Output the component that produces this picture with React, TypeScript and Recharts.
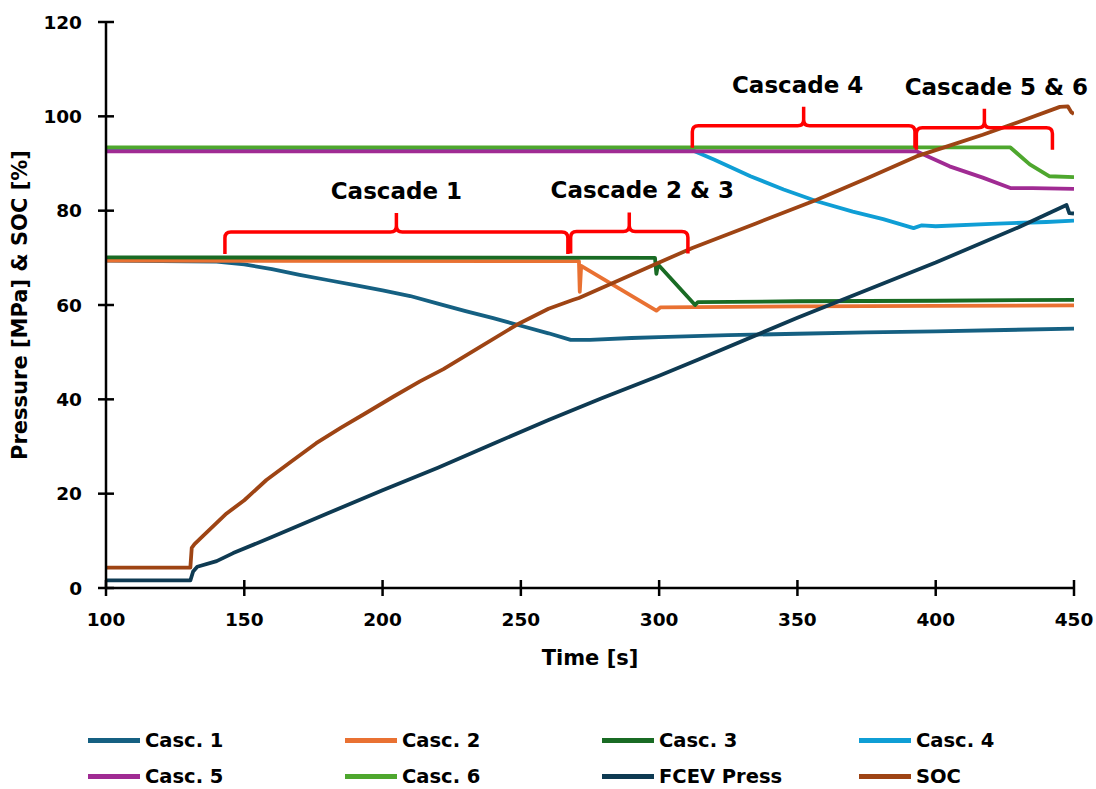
import React from "react";
import { LineChart, Line, XAxis, YAxis, ReferenceLine } from "recharts";

type Pt = [number, number];

// [time s, value]
const casc1: Pt[] = [
  [100, 69.4], [140, 69.2], [150, 68.6], [160, 67.6], [170, 66.4], [180, 65.3],
  [190, 64.2], [200, 63.1], [210, 61.9], [220, 60.3], [230, 58.7], [240, 57.2],
  [250, 55.6], [260, 54.0], [268, 52.6], [275, 52.6], [290, 53.0], [300, 53.2],
  [325, 53.6], [350, 53.9], [375, 54.2], [400, 54.4], [425, 54.7], [450, 55.0],
];
const casc2: Pt[] = [
  [100, 69.4], [271, 69.3], [271.3, 62.8], [271.8, 68.3], [299, 58.8],
  [300.5, 59.5], [350, 59.7], [400, 59.8], [450, 59.9],
];
const casc3: Pt[] = [
  [100, 70.1], [298.5, 70.0], [299, 66.6], [299.6, 68.6], [313, 60.0],
  [314, 60.6], [350, 60.8], [400, 60.9], [450, 61.1],
];
const casc4: Pt[] = [
  [100, 92.8], [312, 92.8], [320, 90.8], [333, 87.3], [345, 84.5], [357, 82.0],
  [370, 79.8], [381, 78.2], [392, 76.3], [395, 76.9], [400, 76.7], [420, 77.2],
  [440, 77.6], [450, 77.9],
];
const casc5: Pt[] = [
  [100, 92.6], [393, 92.6], [405, 89.4], [417, 87.0], [427, 84.8], [435, 84.8],
  [450, 84.6],
];
const casc6: Pt[] = [
  [100, 93.4], [427, 93.4], [434, 89.8], [441, 87.3], [450, 87.1],
];
const fcev: Pt[] = [
  [100, 1.6], [130.5, 1.6], [131.5, 3.5], [133, 4.5], [140, 5.7], [146, 7.4],
  [160, 10.8], [180, 15.8], [200, 20.7], [220, 25.5], [240, 30.6], [260, 35.6],
  [279, 40.2], [300, 45.0], [314, 48.4], [350, 57.3], [400, 69.0], [430, 76.5],
  [447.3, 81.2], [448.3, 79.5], [450, 79.4],
];
const soc: Pt[] = [
  [100, 4.3], [130.5, 4.3], [131, 8.5], [132, 9.3], [135, 11.0], [143.6, 15.8],
  [150, 18.6], [158, 22.9], [167, 26.8], [176, 30.7], [185, 34.0], [194, 37.1],
  [204, 40.6], [213.5, 43.8], [222, 46.4], [235, 51.0], [248.5, 55.8], [260, 59.2],
  [269, 61.1], [271, 61.5], [290, 66.4], [300, 69.0], [312, 72.1], [335, 77.3],
  [357, 82.3], [375, 86.8], [393, 91.5], [405, 93.8], [417, 96.1], [430, 98.8],
  [444.9, 102.0], [447.8, 102.1], [449, 100.9], [450, 100.5],
];

const seriesNames = ["Casc. 1", "Casc. 2", "Casc. 3", "Casc. 4", "Casc. 5", "Casc. 6", "FCEV Press", "SOC"];
const seriesPoints = [casc1, casc2, casc3, casc4, casc5, casc6, fcev, soc];
const seriesColors = ["#156082", "#E97132", "#196B24", "#0F9ED5", "#A02B93", "#4EA72E", "#0E3A52", "#9E4414"];

const xTicks = [100, 150, 200, 250, 300, 350, 400, 450];
const yTicks = [0, 20, 40, 60, 80, 100, 120];

const braceStart = [143, 268, 312, 393];
const braceEnd = [267, 310.4, 392.5, 442.2];
const braceLevel = [75.5, 75.6, 98.0, 97.6];
const braceLabels = ["Cascade 1", "Cascade 2 & 3", "Cascade 4", "Cascade 5 & 6"];
const braceLabelDx = [0, 13, -6, 12];

const FONT = "'DejaVu Sans', 'Liberation Sans', Arial, sans-serif";

function YTick(props: any) {
  const { x, y, payload } = props;
  return (
    <g>
      <line x1={x - 8} x2={x + 8} y1={y} y2={y} stroke="#000" strokeWidth={2.5} />
      <text x={x - 24} y={y} textAnchor="end" dominantBaseline="central"
        fontFamily={FONT} fontWeight="bold" fontSize={18.5} fill="#000">
        {payload.value}
      </text>
    </g>
  );
}

function XTick(props: any) {
  const { x, y, payload } = props;
  return (
    <g>
      <line x1={x} x2={x} y1={y - 8} y2={y + 8} stroke="#000" strokeWidth={2.5} />
      <text x={x} y={y + 31} textAnchor="middle" dominantBaseline="central"
        fontFamily={FONT} fontWeight="bold" fontSize={18.5} fill="#000">
        {payload.value}
      </text>
    </g>
  );
}

function AxisTitle(props: any) {
  const { viewBox, text, vertical } = props;
  if (!viewBox) return null;
  const cx = vertical ? viewBox.x + 20 : viewBox.x + viewBox.width / 2;
  const cy = vertical ? viewBox.y + viewBox.height / 2 : viewBox.y + 70;
  return (
    <text x={cx} y={cy} textAnchor="middle" dominantBaseline="central"
      transform={vertical ? `rotate(-90, ${cx}, ${cy})` : undefined}
      fontFamily={FONT} fontWeight="bold" fontSize={21} fill="#000">
      {text}
    </text>
  );
}

function Brace(props: any) {
  const { x1, y1, x2, label, dx } = props;
  const r = 6, tip = 22, notch = 19;
  const xm = (x1 + x2) / 2;
  const y = y1;
  const d =
    `M${x1},${y + tip} L${x1},${y + r} Q${x1},${y} ${x1 + r},${y} L${xm - r},${y} ` +
    `Q${xm},${y} ${xm},${y - r} L${xm},${y - notch} M${xm},${y - r} ` +
    `Q${xm},${y} ${xm + r},${y} L${x2 - r},${y} Q${x2},${y} ${x2},${y + r} L${x2},${y + tip}`;
  return (
    <g>
      <path d={d} fill="none" stroke="#FF0000" strokeWidth={3.5} strokeLinejoin="round" />
      <text x={xm + dx} y={y - 41} textAnchor="middle" dominantBaseline="central"
        fontFamily={FONT} fontWeight="bold" fontSize={23} fill="#000">
        {label}
      </text>
    </g>
  );
}

export default function App() {
  return (
    <div style={{ position: "absolute", left: 0, top: 0, width: 1096, height: 789, background: "#fff" }}>
      <LineChart width={1096} height={789} margin={{ top: 22, right: 22, left: 0, bottom: 121 }}>
        <XAxis
          type="number"
          dataKey="t"
          domain={[100, 450]}
          ticks={xTicks}
          allowDataOverflow
          height={80}
          tickSize={0}
          tickMargin={0}
          tickLine={false}
          tick={<XTick />}
          axisLine={{ stroke: "#000", strokeWidth: 2.5 }}
          label={<AxisTitle text="Time [s]" />}
        />
        <YAxis
          type="number"
          domain={[0, 120]}
          ticks={yTicks}
          allowDataOverflow
          width={106}
          tickSize={0}
          tickMargin={0}
          tickLine={false}
          tick={<YTick />}
          axisLine={{ stroke: "#000", strokeWidth: 2.5 }}
          label={<AxisTitle text="Pressure [MPa] & SOC [%]" vertical />}
        />
        {seriesPoints.map((pts, i) => (
          <Line
            key={seriesNames[i]}
            name={seriesNames[i]}
            data={pts.map(([t, v]) => ({ t, v }))}
            dataKey="v"
            type="linear"
            stroke={seriesColors[i]}
            strokeWidth={3.8}
            strokeLinejoin="round"
            dot={false}
            activeDot={false}
            isAnimationActive={false}
          />
        ))}
        {braceLabels.map((lab, i) => (
          <ReferenceLine
            key={lab}
            segment={[{ x: braceStart[i], y: braceLevel[i] }, { x: braceEnd[i], y: braceLevel[i] }]}
            ifOverflow="visible"
            shape={(p: any) => <Brace {...p} label={lab} dx={braceLabelDx[i]} />}
          />
        ))}
      </LineChart>
      {seriesNames.map((name, i) => (
        <div
          key={name}
          style={{
            position: "absolute",
            left: 88 + (i % 4) * 257,
            top: 740 + Math.floor(i / 4) * 36 - 12,
            height: 24,
            display: "flex",
            alignItems: "center",
            fontFamily: FONT,
            fontWeight: "bold",
            fontSize: 19.5,
            color: "#000",
            whiteSpace: "nowrap",
          }}
        >
          <span style={{ display: "inline-block", width: 52, height: 5, background: seriesColors[i], marginRight: 5 }} />
          {name}
        </div>
      ))}
    </div>
  );
}
